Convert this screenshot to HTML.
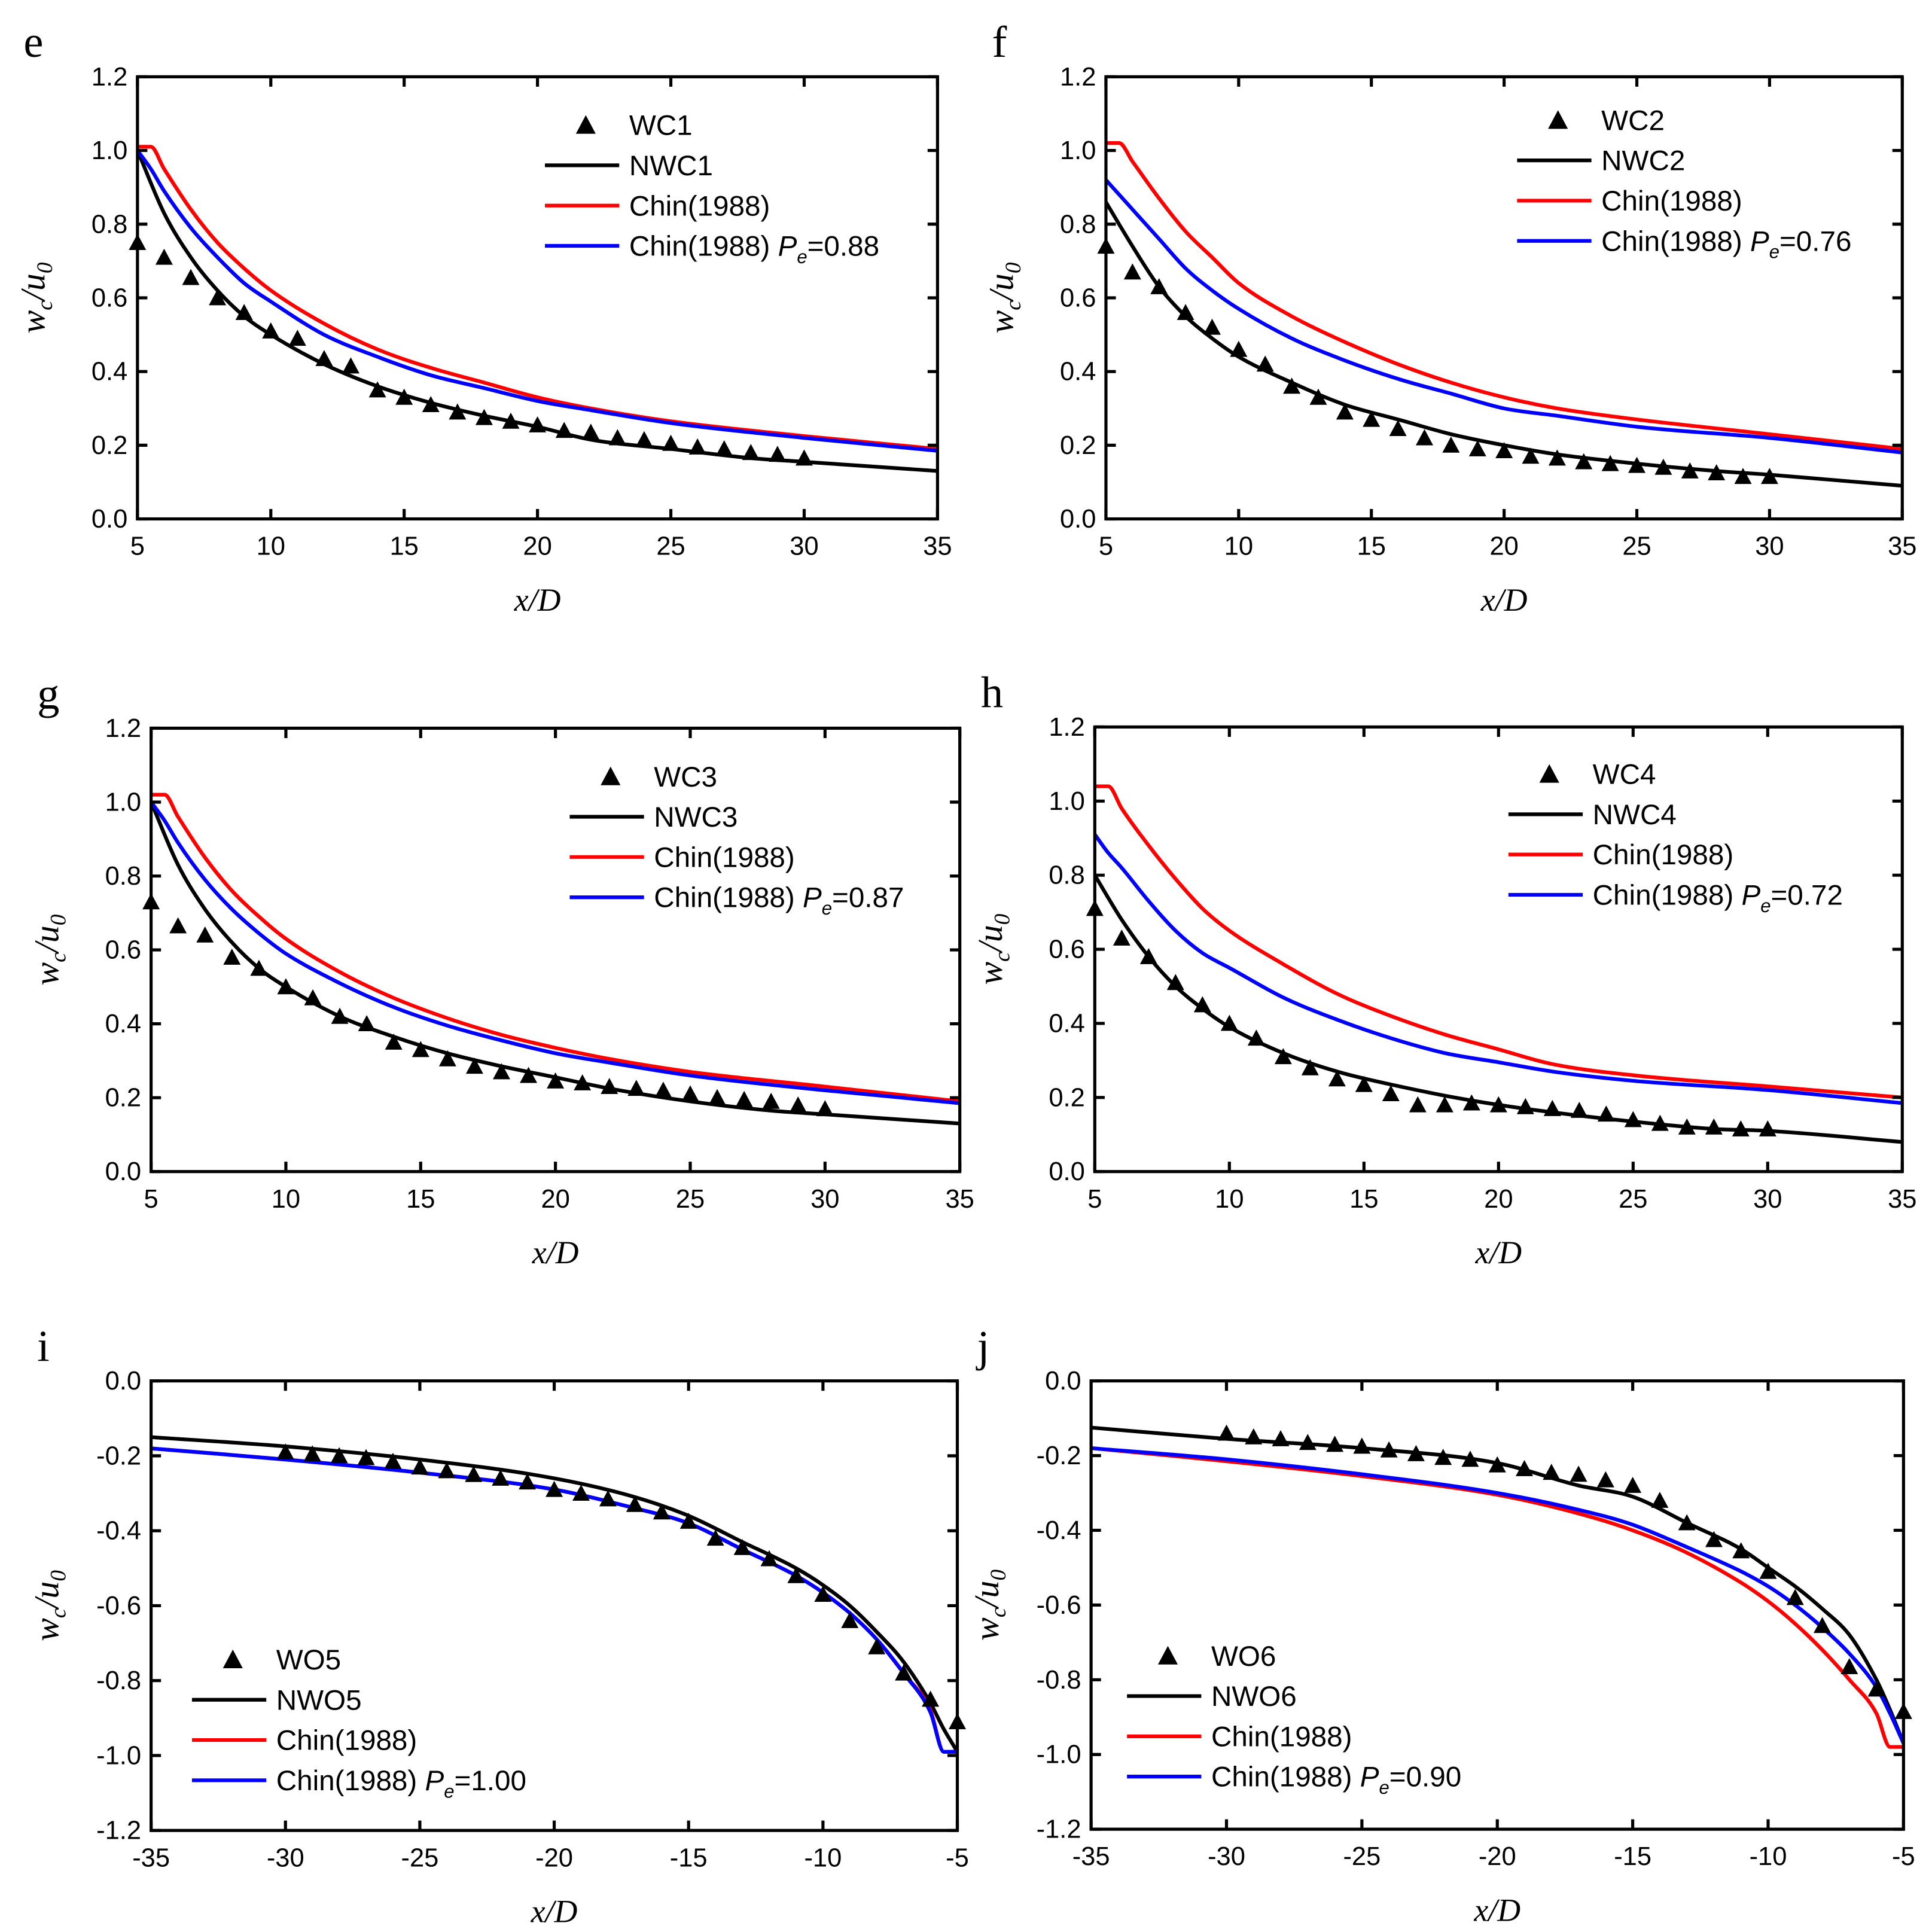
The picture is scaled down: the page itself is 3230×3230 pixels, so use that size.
<!DOCTYPE html>
<html><head><meta charset="utf-8"><style>
html,body{margin:0;padding:0;background:#fff}
svg{display:block}
text{font-family:"Liberation Sans",Arial,sans-serif;fill:#000}
.ser{font-family:"Liberation Serif",serif;font-style:italic}
</style></head><body>
<svg id="fig" width="3230" height="3230" viewBox="0 0 1560 1560" xmlns="http://www.w3.org/2000/svg"></svg>
<script>
// ---- data ----
const xsPos = [5,6,7,8,9,10,11,12,13,14,15,16,17,18,19,20,21,22,23,24,25,26,27,28,29,30];
const xsNeg = [-30,-29,-28,-27,-26,-25,-24,-23,-22,-21,-20,-19,-18,-17,-16,-15,-14,-13,-12,-11,-10,-9,-8,-7,-6,-5];
const WC1 = [0.75,0.71,0.655,0.60,0.56,0.51,0.49,0.435,0.415,0.35,0.33,0.31,0.29,0.275,0.265,0.255,0.24,0.235,0.22,0.215,0.205,0.195,0.19,0.18,0.175,0.165];
const WC2 = [0.74,0.67,0.63,0.56,0.52,0.46,0.42,0.36,0.33,0.29,0.27,0.245,0.22,0.20,0.19,0.185,0.17,0.165,0.155,0.15,0.145,0.14,0.13,0.125,0.115,0.115];
const WC3 = [0.73,0.665,0.64,0.58,0.55,0.50,0.47,0.42,0.40,0.35,0.33,0.305,0.285,0.27,0.26,0.245,0.24,0.23,0.225,0.22,0.21,0.20,0.195,0.19,0.18,0.17];
const WC4 = [0.71,0.63,0.58,0.51,0.45,0.40,0.36,0.31,0.28,0.25,0.235,0.21,0.18,0.18,0.185,0.18,0.175,0.17,0.165,0.155,0.14,0.13,0.12,0.12,0.115,0.115];
const WO5 = [-0.19,-0.195,-0.20,-0.205,-0.215,-0.23,-0.24,-0.25,-0.26,-0.27,-0.29,-0.30,-0.315,-0.33,-0.35,-0.375,-0.42,-0.445,-0.475,-0.52,-0.57,-0.64,-0.71,-0.78,-0.85,-0.91];
const WO6 = [-0.14,-0.15,-0.155,-0.165,-0.17,-0.175,-0.185,-0.195,-0.205,-0.21,-0.225,-0.235,-0.245,-0.25,-0.265,-0.28,-0.32,-0.38,-0.425,-0.455,-0.51,-0.58,-0.655,-0.765,-0.825,-0.885];
const lxPos = [5,6,7,8,9,10,12,14,16,18,20,22,25,28,30,35];
const NWC1 = [1.0,0.83,0.71,0.62,0.55,0.50,0.42,0.36,0.315,0.28,0.25,0.215,0.19,0.165,0.155,0.13];
const NWC2 = [0.86,0.74,0.63,0.55,0.49,0.44,0.37,0.31,0.27,0.23,0.20,0.175,0.15,0.13,0.12,0.09];
const NWC3 = [1.0,0.83,0.71,0.62,0.55,0.50,0.42,0.365,0.32,0.285,0.255,0.225,0.19,0.165,0.155,0.13];
const NWC4 = [0.80,0.68,0.58,0.50,0.44,0.39,0.32,0.27,0.235,0.205,0.18,0.16,0.135,0.115,0.11,0.08];
const lxChin = [5,5.5,6,7,8,9,10,12,14,16,18,20,22,25,30,35];
const chinE = [1.01,1.01,0.95,0.84,0.75,0.68,0.62,0.53,0.46,0.41,0.37,0.33,0.30,0.265,0.225,0.19];
const peE = [1.0,0.95,0.89,0.79,0.71,0.64,0.59,0.50,0.44,0.39,0.355,0.32,0.295,0.26,0.22,0.185];
const chinF = [1.02,1.02,0.97,0.87,0.78,0.71,0.64,0.55,0.48,0.42,0.37,0.33,0.30,0.27,0.23,0.19];
const peF = [0.92,0.88,0.84,0.76,0.68,0.62,0.57,0.49,0.43,0.38,0.34,0.30,0.28,0.25,0.22,0.18];
const chinG = [1.02,1.02,0.96,0.85,0.76,0.69,0.63,0.54,0.47,0.415,0.37,0.335,0.305,0.27,0.23,0.19];
const peG = [1.0,0.95,0.89,0.79,0.71,0.645,0.59,0.51,0.445,0.395,0.355,0.32,0.295,0.26,0.22,0.185];
const chinH = [1.04,1.04,0.98,0.88,0.79,0.71,0.65,0.56,0.48,0.42,0.37,0.33,0.29,0.26,0.23,0.20];
const peH = [0.91,0.86,0.82,0.73,0.65,0.59,0.55,0.47,0.41,0.36,0.32,0.295,0.27,0.245,0.22,0.185];
const lxNeg = [-35,-30,-25,-20,-17,-15,-13,-11,-10,-9,-8,-7,-6,-5.5,-5];
const NWO5 = [-0.15,-0.175,-0.21,-0.26,-0.31,-0.36,-0.43,-0.50,-0.545,-0.60,-0.67,-0.75,-0.86,-0.93,-0.99];
const chinI = [-0.18,-0.21,-0.245,-0.29,-0.34,-0.38,-0.45,-0.52,-0.565,-0.62,-0.69,-0.78,-0.88,-0.99,-0.99];
const peI = [-0.18,-0.21,-0.245,-0.29,-0.34,-0.38,-0.45,-0.52,-0.565,-0.62,-0.69,-0.78,-0.885,-0.99,-0.99];
const NWO6 = [-0.125,-0.155,-0.18,-0.22,-0.28,-0.31,-0.38,-0.45,-0.50,-0.55,-0.61,-0.68,-0.80,-0.88,-0.97];
const chinJ = [-0.18,-0.215,-0.255,-0.305,-0.355,-0.40,-0.46,-0.54,-0.59,-0.65,-0.72,-0.80,-0.89,-0.98,-0.98];
const peJ = [-0.18,-0.21,-0.25,-0.30,-0.345,-0.385,-0.445,-0.51,-0.55,-0.60,-0.66,-0.73,-0.82,-0.89,-0.97];
const xTicksPos = [5,10,15,20,25,30,35];
const xTicksNeg = [-35,-30,-25,-20,-15,-10,-5];
const yTicksPos = [0.0,0.2,0.4,0.6,0.8,1.0,1.2];
const yTicksNeg = [0.0,-0.2,-0.4,-0.6,-0.8,-1.0,-1.2];

const NS="http://www.w3.org/2000/svg";
const svg=document.getElementById('fig');
function mk(tag,attrs,parent){const e=document.createElementNS(NS,tag);for(const k in attrs)e.setAttribute(k,attrs[k]);(parent||svg).appendChild(e);return e;}

// monotone cubic path through screen points
function monoPath(P){
 const n=P.length; if(n<2) return '';
 const d=[],m=new Array(n);
 for(let i=0;i<n-1;i++) d.push((P[i+1][1]-P[i][1])/(P[i+1][0]-P[i][0]));
 m[0]=d[0]; m[n-1]=d[n-2];
 for(let i=1;i<n-1;i++) m[i]=(d[i-1]*d[i]<=0)?0:(d[i-1]+d[i])/2;
 for(let i=0;i<n-1;i++){
  if(d[i]===0){m[i]=0;m[i+1]=0;continue;}
  const a=m[i]/d[i],b=m[i+1]/d[i],s=a*a+b*b;
  if(s>9){const t=3/Math.sqrt(s);m[i]=t*a*d[i];m[i+1]=t*b*d[i];}
 }
 let s='M'+P[0][0].toFixed(1)+','+P[0][1].toFixed(1);
 for(let i=0;i<n-1;i++){
  const h=(P[i+1][0]-P[i][0])/3;
  s+='C'+(P[i][0]+h).toFixed(1)+','+(P[i][1]+m[i]*h).toFixed(1)+' '+(P[i+1][0]-h).toFixed(1)+','+(P[i+1][1]-m[i+1]*h).toFixed(1)+' '+P[i+1][0].toFixed(1)+','+P[i+1][1].toFixed(1);
 }
 return s;
}

const panels=[
 {id:'e',L:111,R:757,T:62,B:419,neg:false,pts:WC1,pname:'WC1',line:NWC1,lname:'NWC1',chin:chinE,pe:peE,pev:'0.88',leg:[440,101]},
 {id:'f',L:893,R:1536,T:62,B:419,neg:false,pts:WC2,pname:'WC2',line:NWC2,lname:'NWC2',chin:chinF,pe:peF,pev:'0.76',leg:[1225,97]},
 {id:'g',L:122,R:775,T:588,B:946,neg:false,pts:WC3,pname:'WC3',line:NWC3,lname:'NWC3',chin:chinG,pe:peG,pev:'0.87',leg:[460,627]},
 {id:'h',L:884,R:1536,T:587,B:946,neg:false,pts:WC4,pname:'WC4',line:NWC4,lname:'NWC4',chin:chinH,pe:peH,pev:'0.72',leg:[1218,625]},
 {id:'i',L:122,R:773,T:1115,B:1478,neg:true,pts:WO5,pname:'WO5',line:NWO5,lname:'NWO5',chin:chinI,pe:peI,pev:'1.00',leg:[155,1340]},
 {id:'j',L:881,R:1537,T:1115,B:1477,neg:true,pts:WO6,pname:'WO6',line:NWO6,lname:'NWO6',chin:chinJ,pe:peJ,pev:'0.90',leg:[910,1337]}
];

panels.forEach(p=>{
 const g=mk('g',{});
 
 
 const x0=p.neg?-35:5,x1=p.neg?-5:35,y0=p.neg?-1.2:0,y1=p.neg?0:1.2;
 const sx=v=>p.L+(v-x0)/(x1-x0)*(p.R-p.L);
 const sy=v=>p.B-(v-y0)/(y1-y0)*(p.B-p.T);
 const lt=mk('text',{x:p.L-92,y:p.T-16,'font-size':36,class:'ser'},g);lt.style.fontStyle='normal';lt.textContent=p.id;
 
 
 const clipId='c'+p.id;
 const cp=mk('clipPath',{id:clipId},g);mk('rect',{x:p.L,y:p.T,width:p.R-p.L,height:p.B-p.T},cp);
 const lineX=p.neg?lxNeg:lxPos, chinX=p.neg?lxNeg:lxChin;
 const ser=[[p.line,lineX,'#000',p.lname],[p.chin,chinX,'#f00','chin-1988'],[p.pe,chinX,'#00f','chin-1988-pe']];
 ser.forEach(s=>{
  const P=s[1].map((x,i)=>[sx(x),sy(s[0][i])]);
  const path=mk('path',{d:monoPath(P),fill:'none',stroke:s[2],'stroke-width':3,'stroke-linejoin':'round','clip-path':'url(#'+clipId+')'},g);
  
  
 });
 const xs=p.neg?xsNeg:xsPos;
 xs.forEach((x,i)=>{
  const cx=sx(x),cy=sy(p.pts[i]);
  const t=mk('path',{d:`M${cx},${cy-7}L${cx+7},${cy+6}L${cx-7},${cy+6}Z`,fill:'#000'},g);
  
  
 });
 const fr=mk('rect',{x:p.L,y:p.T,width:p.R-p.L,height:p.B-p.T,fill:'none',stroke:'#000','stroke-width':2.5},g);
 
 
 (p.neg?xTicksNeg:xTicksPos).forEach(v=>{
  const X=sx(v);
  mk('line',{x1:X,y1:p.B,x2:X,y2:p.B-8,stroke:'#000','stroke-width':2.5},g);
  mk('line',{x1:X,y1:p.T,x2:X,y2:p.T+8,stroke:'#000','stroke-width':2.5},g);
  const t=mk('text',{x:X,y:p.B+29,'font-size':21,'text-anchor':'middle'},g);t.textContent=String(v);
  
  
 });
 (p.neg?yTicksNeg:yTicksPos).forEach(v=>{
  const Y=sy(v);
  mk('line',{x1:p.L,y1:Y,x2:p.L+8,y2:Y,stroke:'#000','stroke-width':2.5},g);
  mk('line',{x1:p.R,y1:Y,x2:p.R-8,y2:Y,stroke:'#000','stroke-width':2.5},g);
  const t=mk('text',{x:p.L-8,y:Y+7,'font-size':21,'text-anchor':'end'},g);t.textContent=v.toFixed(1);
  
  
 });
 const xl=mk('text',{x:(p.L+p.R)/2,y:p.B+74,'font-size':26,'text-anchor':'middle',class:'ser'},g);xl.textContent='x/D';
 
 
 const yx=p.L-75,yy=(p.T+p.B)/2;
 const yl=mk('text',{x:yx,y:yy,'font-size':28,'text-anchor':'middle',class:'ser',transform:`rotate(-90 ${yx} ${yy})`},g);
 yl.innerHTML='w<tspan font-size="18" dy="6">c</tspan><tspan dy="-6">/u</tspan><tspan font-size="18" dy="6">0</tspan>';
 
 
 // legend
 const lg=mk('g',{},g);
 
 
 const [lx,ly]=p.leg, tx=lx+68;
 mk('path',{d:`M${lx+33},${ly-8}L${lx+41},${ly+7}L${lx+25},${ly+7}Z`,fill:'#000'},lg);
 const rows=[[p.pname,null],[p.lname,'#000'],['Chin(1988)','#f00'],['pe','#00f']];
 rows.forEach((r,i)=>{
  const y=ly+i*32.5;
  if(r[1]) mk('line',{x1:lx,y1:y,x2:lx+60,y2:y,stroke:r[1],'stroke-width':3},lg);
  const t=mk('text',{x:tx,y:y+8,'font-size':23},lg);
  if(r[0]==='pe') t.innerHTML='Chin(1988) <tspan font-style="italic">P</tspan><tspan font-style="italic" font-size="15" dy="6">e</tspan><tspan dy="-6">='+p.pev+'</tspan>';
  else t.textContent=r[0];
  
  
 });
});
</script>
</body></html>
